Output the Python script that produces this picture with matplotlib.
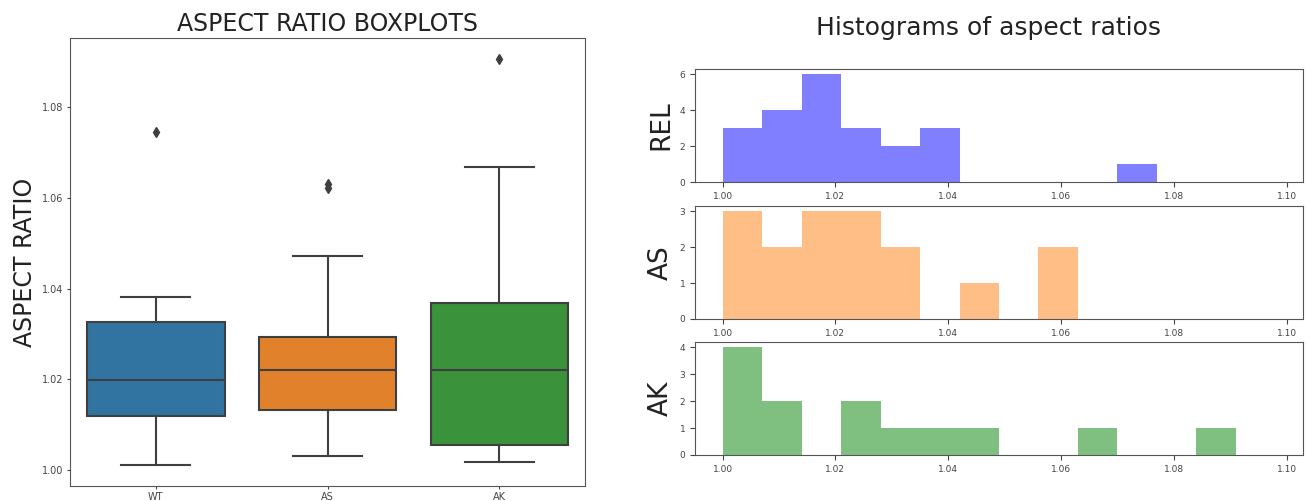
import numpy as np
import matplotlib
matplotlib.use("Agg")
import matplotlib.pyplot as plt

# boxplot summary values
groups = ["WT", "AS", "AK"]
box_colors = ["#3274a1", "#e1812c", "#3a923a"]
whislo = [1.0011, 1.0032, 1.0018]
q1 = [1.0119, 1.0133, 1.0055]
med = [1.0198, 1.0221, 1.0221]
q3 = [1.0327, 1.0293, 1.0369]
whishi = [1.0382, 1.0472, 1.0667]
fliers = [[1.0746], [1.0622, 1.0630], [1.0906]]

# histogram counts, bins of 0.007 starting at 1.0
hist_names = ["REL", "AS", "AK"]
hist_colors = ["b", "C1", "g"]
rel_counts = [3, 4, 6, 3, 2, 3, 0, 0, 0, 0, 1, 0, 0, 0]
as_counts = [3, 2, 3, 3, 2, 0, 1, 0, 2, 0, 0, 0, 0, 0]
ak_counts = [4, 2, 0, 2, 1, 1, 1, 0, 0, 1, 0, 0, 1, 0]
edges = np.arange(1.0, 1.1, 0.007)

W, H = 1306, 501
fig = plt.figure(figsize=(W / 100, H / 100), dpi=100)

# left: boxplots
ax = fig.add_axes([70 / W, 1 - 486 / H, 515 / W, 448 / H])
line_c = "#3f3f3f"
stats = []
for i in range(3):
    stats.append(dict(whislo=whislo[i], q1=q1[i], med=med[i], q3=q3[i],
                      whishi=whishi[i], fliers=fliers[i]))
bp = ax.bxp(stats, positions=[0, 1, 2], widths=0.8, patch_artist=True,
            boxprops=dict(edgecolor=line_c, linewidth=1.5),
            medianprops=dict(color=line_c, linewidth=1.5),
            whiskerprops=dict(color=line_c, linewidth=1.5),
            capprops=dict(color=line_c, linewidth=1.5),
            flierprops=dict(marker="d", markerfacecolor=line_c,
                            markeredgecolor=line_c, markersize=5))
for patch, c in zip(bp["boxes"], box_colors):
    patch.set_facecolor(c)
ax.set_xlim(-0.5, 2.5)
ax.set_ylim(0.9965, 1.0952)
ax.set_xticks([0, 1, 2])
ax.set_xticklabels(groups)
ax.set_yticks([1.00, 1.02, 1.04, 1.06, 1.08])
ax.tick_params(labelsize=7, colors="#444444", length=2.5, pad=2)
ax.set_ylabel("ASPECT RATIO", fontsize=17, color="#222222")
ax.set_title("ASPECT RATIO BOXPLOTS", fontsize=17, color="#222222", pad=5)
for s in ax.spines.values():
    s.set_color("#555555")

# right: histograms
tops = [69, 206, 342]
counts_all = [rel_counts, as_counts, ak_counts]
centers = (edges[:-1] + edges[1:]) / 2
for name, col, cnt, top in zip(hist_names, hist_colors, counts_all, tops):
    hax = fig.add_axes([695 / W, 1 - (top + 113) / H, 608 / W, 113 / H])
    hax.hist(centers, bins=edges, weights=cnt, color=col, alpha=0.5)
    hax.set_ylabel(name, fontsize=19, color="#222222")
    hax.set_xticks([1.00, 1.02, 1.04, 1.06, 1.08, 1.10])
    hax.tick_params(labelsize=6.5, colors="#444444")
    for s in hax.spines.values():
        s.set_color("#555555")

fig.text(988 / W, 1 - 28 / H, "Histograms of aspect ratios", fontsize=18,
         ha="center", va="center", color="#222222")

fig.savefig("out.png", dpi=100)
